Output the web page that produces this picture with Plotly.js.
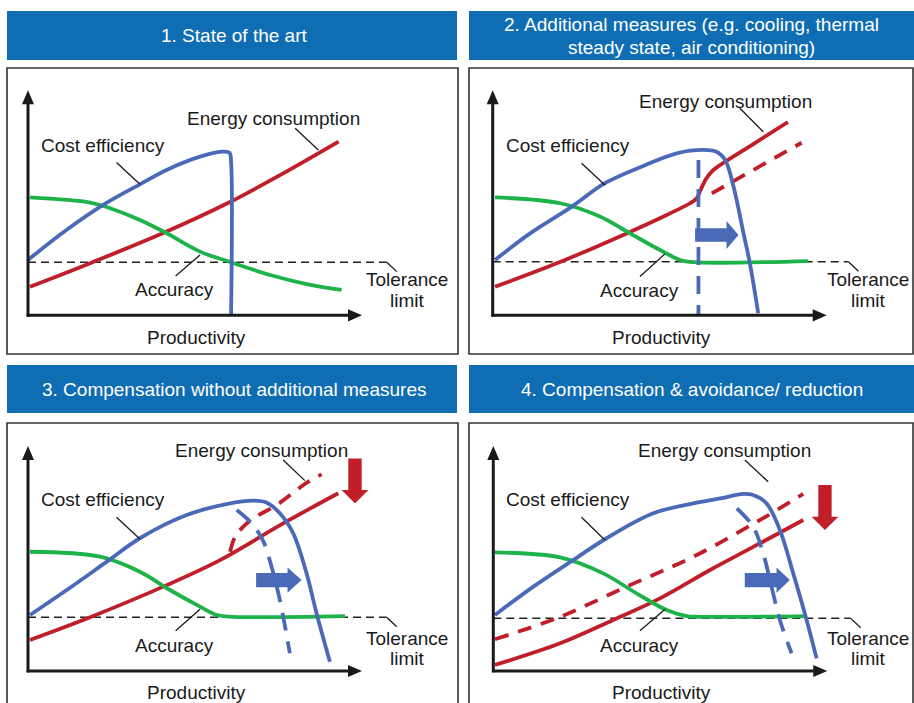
<!DOCTYPE html>
<html><head><meta charset="utf-8">
<script src="https://cdn.plot.ly/plotly-3.0.1.min.js"></script>
<style>html,body{margin:0;padding:0;background:#fff}#chart{width:914px;height:703px}</style>
</head><body><div id="chart"></div>
<script>
// ---------- texts ----------
const panelTitles = ["1. State of the art",
  "2. Additional measures (e.g. cooling, thermal<br>steady state, air conditioning)",
  "3. Compensation without additional measures",
  "4. Compensation & avoidance/ reduction"];
const xAxisLabel = "Productivity";
const energyLabel = "Energy consumption";
const costLabel = "Cost efficiency";
const accuracyLabel = "Accuracy";
const toleranceLabel = ["Tolerance", "limit"];

// ---------- schematic values (x: productivity 0-100, y: 0-100) ----------
const toleranceLevel = [23.6, 23.8, 23.9, 23.4];

// Panel 1
const p1EnergyX = [0.6, 19, 41, 60, 76.4, 93];
const p1EnergyY = [12.7, 23.4, 36.9, 50, 63.1, 77.2];
const p1CostX = [0, 11.5, 23, 33.5, 41.5, 51.5, 58, 60.3, 60.8, 60.8];
const p1CostY = [24.6, 37.9, 49.5, 58.2, 64.6, 70.5, 72.7, 72.3, 68, 0];
const p1AccX = [0.6, 18.6, 24.6, 33.5, 41, 51.5, 60.8, 72.5, 83.4, 93.9];
const p1AccY = [52.4, 50.1, 47.6, 42.4, 36.9, 28.3, 23.6, 17.9, 13.9, 11.3];

// Panel 2
const p2EnergyX = [0.7, 19.2, 40.1, 52.1, 59.1, 61.1, 62.2, 64, 66, 68.1, 78, 88.4];
const p2EnergyY = [12.7, 23.1, 36.4, 44.6, 49.8, 52, 55.6, 60.9, 64.5, 66.8, 76.1, 85.9];
const p2EnergyRefX = [65.6, 92.5];
const p2EnergyRefY = [54.2, 76.7];
const p2CostX = [0.7, 11.2, 23.7, 33.6, 45.1, 55.1, 63.1, 67, 69.6, 72.1, 75.1, 77, 79.5];
const p2CostY = [24.6, 36.4, 48.3, 58.7, 66.4, 72, 73.5, 72.7, 69, 57.2, 36.4, 23.1, 0.9];
const p2CostRefX = [61.6, 61.6];
const p2CostRefY = [69, 0];
const p2AccX = [0.7, 20.2, 32.1, 41.1, 50.1, 56.1, 60.1, 94.5];
const p2AccY = [52.4, 49.8, 43.9, 36.4, 29, 24.6, 23.6, 24.1];

// Panel 3
const p3EnergyX = [0.6, 18.6, 40.5, 57.5, 76.4, 92.9];
const p3EnergyY = [13.8, 23.9, 37.5, 49.3, 65.6, 79];
const p3EnergyRefX = [60.5, 62, 64, 67.5, 74.5, 82.9, 87.9];
const p3EnergyRefY = [53, 59.7, 63.5, 67.9, 73.8, 83.1, 87.4];
const p3CostX = [0.6, 11.6, 23.6, 33.5, 47.5, 60.5, 67.5, 71.5, 75.4, 79.4, 83.4, 86.4, 90.4];
const p3CostY = [24.9, 36, 48.6, 59, 69.3, 74.5, 75.7, 74.8, 70.1, 61.2, 43.4, 25.6, 4.1];
const p3CostRefX = [62.5, 67, 70.5, 72.9, 75.4, 78.4];
const p3CostRefY = [71.6, 65.6, 57.5, 46.4, 31.6, 7.9];
const p3AccX = [0.6, 21.6, 33.5, 42.5, 51.5, 56.5, 61.5, 94.9];
const p3AccY = [53, 50.8, 44.1, 36, 28.6, 24.9, 24.1, 24.4];

// Panel 4
const p4EnergyX = [0.5, 20, 35.9, 49.9, 64.9, 79.8, 92.8];
const p4EnergyY = [2.7, 12.3, 22.7, 32.3, 44.9, 56.7, 67.1];
const p4EnergyRefX = [0.5, 20, 39.9, 59.9, 79.8, 92.8];
const p4EnergyRefY = [14.1, 24.1, 37.5, 50.8, 67.1, 78.7];
const p4CostX = [0.5, 12, 23.9, 33.9, 47.9, 59.9, 67.9, 74.9, 77.8, 81.8, 85.8, 89.8, 93.8, 96.8];
const p4CostY = [24.9, 37.5, 49.3, 59, 70.1, 74.5, 76.7, 78.7, 78.2, 74.5, 62.7, 43.4, 22.7, 5.6];
const p4CostRefX = [72.9, 77.8, 80.8, 83.3, 85.8, 89.3];
const p4CostRefY = [72.3, 64.1, 52.3, 37.5, 22.7, 7.9];
const p4AccX = [0.5, 20, 32.9, 42.9, 51.9, 57.9, 61.9, 93.8];
const p4AccY = [52.7, 50.5, 43.4, 34.5, 27.1, 24.4, 24.1, 24.4];

// ---------- styling / geometry ----------
const W = 914, H = 703;
const SX = 3.34, SY = 2.25;             // px per unit
const origins = [[28, 315.3], [492.7, 315.3], [28, 671], [493.3, 671]];
const BLUE = '#4a6ab8', RED = '#c01f2a', GREEN = '#1db34a', HEAD = '#0f6db3', INK = '#1a1a1a';
const FONT = 'Liberation Sans, Arial, sans-serif';

const layout = {
  width: W, height: H, margin: {l: 0, r: 0, t: 0, b: 0},
  paper_bgcolor: '#fff', plot_bgcolor: 'rgba(0,0,0,0)',
  showlegend: false, shapes: [], annotations: []
};

function pxX(p) { return p / W; }
function pxY(p) { return 1 - p / H; }

origins.forEach(([ox, oy], i) => {
  const l = Math.max(0, ox - 20), r = Math.min(W, ox + 420), t = oy - 245, b = Math.min(H, oy + 35);
  const n = i === 0 ? '' : String(i + 1);
  layout['xaxis' + n] = {domain: [l / W, r / W], range: [(l - ox) / SX, (r - ox) / SX], visible: false, fixedrange: true, anchor: 'y' + n};
  layout['yaxis' + n] = {domain: [1 - b / H, 1 - t / H], range: [(oy - b) / SY, (oy - t) / SY], visible: false, fixedrange: true, anchor: 'x' + n};
});

// headers & frames (paper coordinates from pixel geometry)
const headerBoxes = [[7, 11, 457, 60], [469, 11, 914, 60], [7, 365, 457, 413], [469, 365, 914, 413]];
const frameBoxes = [[7, 68, 458, 354], [469, 68, 913, 354], [7, 423, 458, 760], [469, 423, 913, 760]];
headerBoxes.forEach((hb, i) => {
  layout.shapes.push({type: 'rect', xref: 'paper', yref: 'paper', x0: pxX(hb[0]), x1: pxX(hb[2]), y0: pxY(hb[3]), y1: pxY(hb[1]),
    fillcolor: HEAD, line: {width: 0}, layer: 'below'});
  const lines = panelTitles[i].split('<br>');
  const cx = (hb[0] + hb[2]) / 2 + (i % 2 === 0 ? 2 : 0);
  const cy = (hb[1] + hb[3]) / 2;
  const gap = 23;
  lines.forEach((ln, k) => {
    layout.annotations.push({xref: 'paper', yref: 'paper', x: pxX(cx), y: pxY(cy + (k - (lines.length - 1) / 2) * gap),
      text: ln, showarrow: false, xanchor: 'center', yanchor: 'middle', font: {family: FONT, size: 19, color: '#fff'}});
  });
});
frameBoxes.forEach(fb => {
  layout.shapes.push({type: 'rect', xref: 'paper', yref: 'paper', x0: pxX(fb[0]), x1: pxX(fb[2]), y0: pxY(fb[3]), y1: pxY(fb[1]),
    fillcolor: 'rgba(0,0,0,0)', line: {color: '#333', width: 1.6}, layer: 'below'});
});

const traces = [];
function addLine(i, x, y, color, dash, width) {
  const n = i === 0 ? '' : String(i + 1);
  traces.push({type: 'scatter', mode: 'lines', x: x, y: y, xaxis: 'x' + n, yaxis: 'y' + n, hoverinfo: 'skip',
    line: {color: color, width: width || 3.8, dash: dash || 'solid', shape: 'spline', smoothing: 1.0}});
}

// per panel labels/leaders
const labelCfg = [
  {en: [73.5, 87.6], enL: [80, 83.1, 86.9, 73.5], co: [22.4, 75.4], coL: [26.5, 67.9, 33.5, 58.2], ac: [44, 11.3], acL: [44.2, 17.5, 51.5, 26.8], tolEnd: 107.4, tx: 113.4, ty: [15.7, 6.8], pr: [50.5, -9.8]},
  {en: [69.8, 95], enL: [74, 92, 81, 81.6], co: [22.5, 75.4], coL: [26.6, 67.6, 33.6, 57.9], ac: [44.1, 11], acL: [44.1, 17.2, 51.6, 27.3], tolEnd: 106.5, tx: 112.5, ty: [15.7, 6.8], pr: [50.6, -9.8]},
  {en: [70, 97.9], enL: [76.4, 93.8, 82.9, 84.6], co: [22.4, 76.3], coL: [26.5, 68.3, 33.5, 58.7], ac: [44, 11.3], acL: [44.2, 17.9, 51.5, 27.4], tolEnd: 107.4, tx: 113.4, ty: [14.5, 5.6], pr: [50.5, -9.5]},
  {en: [69.1, 97.9], enL: [75.3, 93.8, 82.3, 84.1], co: [22.3, 76.3], coL: [26.4, 68.3, 33.4, 58.2], ac: [43.9, 11.3], acL: [43.9, 17.9, 51.4, 27.4], tolEnd: 107, tx: 112.3, ty: [14.5, 5.6], pr: [50.4, -9.5]}
];

labelCfg.forEach((c, i) => {
  const n = i === 0 ? '' : String(i + 1);
  const xr = 'x' + n, yr = 'y' + n;
  // tolerance line (first, under curves)
  traces.push({type: 'scatter', mode: 'lines', x: [0, c.tolEnd], y: [toleranceLevel[i], toleranceLevel[i]], xaxis: xr, yaxis: yr,
    hoverinfo: 'skip', line: {color: '#222', width: 1.5, dash: '8px,5px'}});
  const txt = (t, p) => layout.annotations.push({xref: xr, yref: yr, x: p[0], y: p[1], text: t, showarrow: false,
    xanchor: 'center', yanchor: 'middle', font: {family: FONT, size: 19, color: INK}});
  txt(energyLabel, c.en); txt(costLabel, c.co); txt(accuracyLabel, c.ac); txt(xAxisLabel, c.pr);
  txt(toleranceLabel[0], [c.tx, c.ty[0]]); txt(toleranceLabel[1], [c.tx, c.ty[1]]);
  const seg = (a) => layout.shapes.push({type: 'line', xref: xr, yref: yr, x0: a[0], y0: a[1], x1: a[2], y1: a[3], line: {color: INK, width: 1.3}});
  seg(c.enL); seg(c.coL); seg(c.acL);
  seg([c.tolEnd, toleranceLevel[i], c.tolEnd + 3, toleranceLevel[i] - 4.2]);
  // axes with arrowheads
  layout.shapes.push({type: 'line', xref: xr, yref: yr, x0: 0, y0: -0.6, x1: 0, y1: 94.5, line: {color: INK, width: 3}});
  layout.shapes.push({type: 'line', xref: xr, yref: yr, x0: -0.4, y0: 0, x1: 96, y1: 0, line: {color: INK, width: 3}});
  layout.shapes.push({type: 'path', xref: xr, yref: yr, path: 'M -1.8 93.8 L 0 100 L 1.8 93.8 Z', fillcolor: INK, line: {width: 0}});
  layout.shapes.push({type: 'path', xref: xr, yref: yr, path: 'M 95.8 -2.7 L 100 0 L 95.8 2.7 Z', fillcolor: INK, line: {width: 0}});
});

// curves
addLine(0, p1EnergyX, p1EnergyY, RED);
addLine(0, p1AccX, p1AccY, GREEN);
addLine(0, p1CostX, p1CostY, BLUE);

addLine(1, p2EnergyRefX, p2EnergyRefY, RED, '14px,10px');
addLine(1, p2EnergyX, p2EnergyY, RED);
addLine(1, p2AccX, p2AccY, GREEN);
addLine(1, p2CostRefX, p2CostRefY, BLUE, '18px,11px');
addLine(1, p2CostX, p2CostY, BLUE);

addLine(2, p3EnergyRefX, p3EnergyRefY, RED, '14px,10px');
addLine(2, p3EnergyX, p3EnergyY, RED);
addLine(2, p3AccX, p3AccY, GREEN);
addLine(2, p3CostRefX, p3CostRefY, BLUE, '18px,11px');
addLine(2, p3CostX, p3CostY, BLUE);

addLine(3, p4EnergyRefX, p4EnergyRefY, RED, '14px,10px');
addLine(3, p4EnergyX, p4EnergyY, RED);
addLine(3, p4AccX, p4AccY, GREEN);
addLine(3, p4CostRefX, p4CostRefY, BLUE, '18px,11px');
addLine(3, p4CostX, p4CostY, BLUE);

// block arrows (shift of limit, reduction of energy)
function rightArrow(i, x0, xh, xt, yc, sh, hh) {
  const n = i === 0 ? '' : String(i + 1);
  layout.shapes.push({type: 'path', xref: 'x' + n, yref: 'y' + n, fillcolor: BLUE, line: {width: 0},
    path: `M ${x0} ${yc - sh} L ${xh} ${yc - sh} L ${xh} ${yc - hh} L ${xt} ${yc} L ${xh} ${yc + hh} L ${xh} ${yc + sh} L ${x0} ${yc + sh} Z`});
}
function downArrow(i, xc, yt, yh, ytip, sw, hw) {
  const n = i === 0 ? '' : String(i + 1);
  layout.shapes.push({type: 'path', xref: 'x' + n, yref: 'y' + n, fillcolor: RED, line: {width: 0},
    path: `M ${xc - sw} ${yt} L ${xc + sw} ${yt} L ${xc + sw} ${yh} L ${xc + hw} ${yh} L ${xc} ${ytip} L ${xc - hw} ${yh} L ${xc - sw} ${yh} Z`});
}
rightArrow(1, 60.6, 70, 73.6, 35.7, 3.0, 6.2);
rightArrow(2, 68.3, 77.7, 81.9, 40.4, 3.2, 5.6);
rightArrow(3, 75.3, 84.8, 88.8, 40.4, 3.2, 5.6);
downArrow(2, 97.9, 94.5, 80.4, 74.5, 2.0, 4.0);
downArrow(3, 99.3, 82.7, 68.6, 62.7, 2.0, 4.0);

Plotly.newPlot('chart', traces, layout, {staticPlot: true, displayModeBar: false});
</script>
</body></html>
